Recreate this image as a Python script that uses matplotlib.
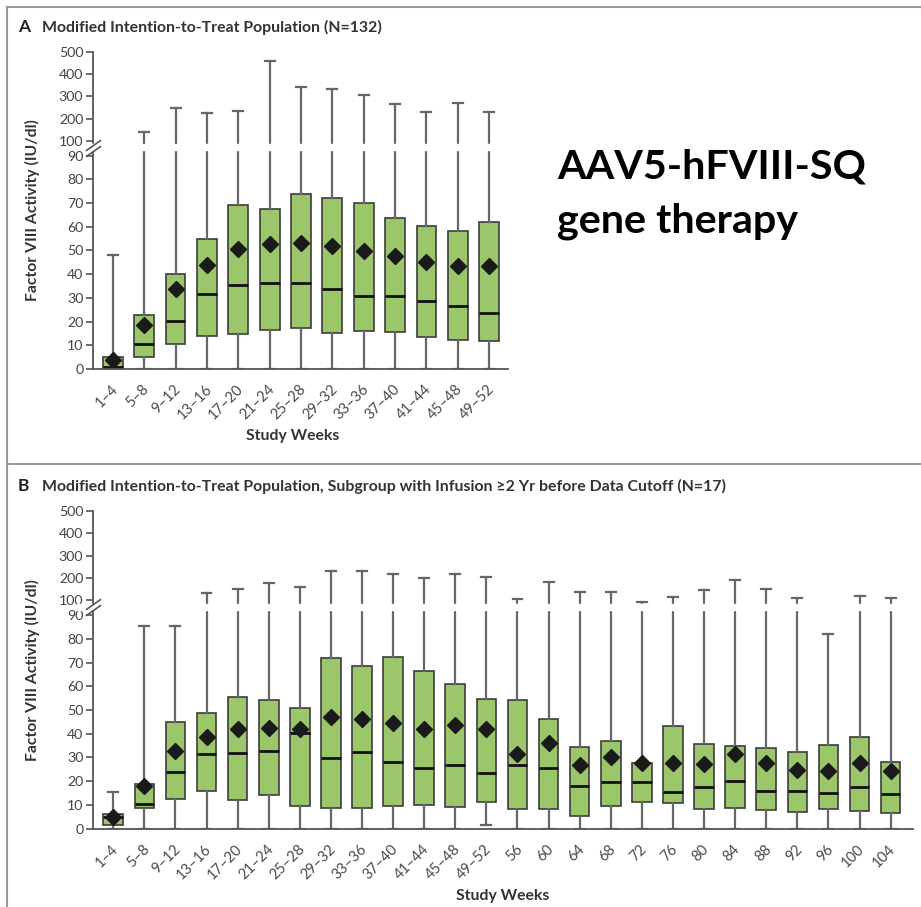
import numpy as np
import matplotlib
matplotlib.use('Agg')
import matplotlib.pyplot as plt
from matplotlib.lines import Line2D
from matplotlib.transforms import ScaledTranslation

plt.rcParams['font.family'] = ['Lato', 'DejaVu Sans']

# panel A data (mITT population, N=132)
labels_a = ['1–4', '5–8', '9–12', '13–16', '17–20', '21–24', '25–28', '29–32',
            '33–36', '37–40', '41–44', '45–48', '49–52']
a_lo = [0, 0, 0, 0, 0, 0, 0, 0, 0, 0, 0, 0, 0]
a_q1 = [0.5, 5.1, 10.4, 14.0, 14.7, 16.6, 17.1, 15.2, 16.2, 15.6, 13.6, 12.2, 11.7]
a_med = [0.8, 10.7, 20.1, 31.6, 35.5, 36.1, 36.2, 33.8, 30.6, 30.9, 28.8, 26.5, 23.6]
a_q3 = [5.1, 22.9, 40.0, 54.9, 69.0, 67.4, 73.6, 72.1, 70.1, 63.8, 60.3, 58.3, 61.8]
a_hi = [48, 139, 249, 225, 236, 460, 343, 331, 304, 266, 231, 272, 230]
a_mean = [3.9, 18.7, 33.6, 43.7, 50.7, 52.7, 53.0, 52.0, 49.6, 47.8, 45.2, 43.3, 43.4]

# panel B data (subgroup infused >=2 yr before cutoff, N=17)
labels_b = labels_a + ['56', '60', '64', '68', '72', '76', '80', '84', '88',
                       '92', '96', '100', '104']
b_lo = [0, 0, 0, 0, 0, 0, 0, 0, 0, 0, 0, 0, 1.5, 0, 0, 0, 0, 0, 0, 0, 0, 0, 0, 0, 0, 0]
b_q1 = [1.7, 8.6, 12.6, 15.9, 12.2, 14.2, 9.6, 8.8, 8.8, 9.6, 10.0, 9.3, 11.2,
        8.1, 8.1, 5.2, 9.4, 11.4, 10.8, 8.1, 8.8, 7.9, 7.2, 8.3, 7.6, 6.5]
b_med = [4.8, 10.4, 24.0, 31.3, 31.7, 32.9, 40.2, 29.9, 32.2, 27.9, 25.6, 26.8, 23.6,
         26.8, 25.7, 18.1, 19.7, 19.8, 15.6, 17.7, 20.2, 16.0, 16.0, 14.9, 17.4, 14.5]
b_q3 = [6.0, 19.0, 45.1, 48.6, 55.6, 54.4, 50.7, 71.8, 68.7, 72.5, 66.6, 60.8, 54.5,
        54.2, 46.2, 34.4, 36.9, 27.7, 43.4, 35.5, 34.8, 34.0, 32.4, 35.3, 38.6, 28.1]
b_hi = [15.3, 85.4, 85.4, 134, 149, 176, 161, 232, 232, 220, 202, 220, 206,
        107, 182, 137, 137, 99, 115, 148, 193, 151, 110, 82, 118, 110]
b_mean = [4.8, 18.1, 32.7, 38.5, 42.1, 42.6, 41.9, 46.9, 46.2, 44.7, 41.9, 43.7, 42.0,
          31.5, 36.2, 26.8, 30.1, 27.7, 27.7, 27.2, 31.5, 27.7, 24.9, 24.3, 27.8, 24.4]

yticks = [0, 10, 20, 30, 40, 50, 60, 70, 80, 90, 100, 200, 300, 400, 500]


# broken y axis: 0-90 linear, short gap, then 100-500 compressed
def fwd(y):
    y = np.asarray(y, dtype=float)
    return np.where(y <= 90, y,
                    np.where(y >= 100, 96.2 + (y - 100) * 0.094, 90 + (y - 90) * 0.62))


def inv(t):
    t = np.asarray(t, dtype=float)
    return np.where(t <= 90, t,
                    np.where(t >= 96.2, 100 + (t - 96.2) / 0.094, 90 + (t - 90) / 0.62))


def draw_panel(ax, labels, lo, q1, med, q3, hi, mean, xlim):
    stats = []
    for i in range(len(labels)):
        stats.append(dict(label=labels[i], whislo=lo[i], q1=q1[i], med=med[i],
                          q3=q3[i], whishi=hi[i], mean=mean[i], fliers=[]))
    pos = np.arange(1, len(labels) + 1)
    ax.set_yscale('function', functions=(fwd, inv))
    ax.bxp(stats, positions=pos, widths=0.63, capwidths=0.32, patch_artist=True,
           showmeans=True, manage_ticks=False,
           boxprops=dict(facecolor='#9cc66a', edgecolor='#3d3d3d', linewidth=1.2),
           whiskerprops=dict(color='#666666', linewidth=1.6),
           capprops=dict(color='#666666', linewidth=1.6),
           medianprops=dict(color='#111111', linewidth=2),
           meanprops=dict(marker='D', markerfacecolor='#1a1a1a',
                          markeredgecolor='#1a1a1a', markersize=8))
    ax.set_ylim(0, 500)
    ax.set_xlim(*xlim)
    ax.set_yticks(yticks)
    ax.set_yticklabels([str(v) for v in yticks])
    ax.set_xticks(pos)
    ax.set_xticklabels(labels, rotation=45, ha='right', va='center',
                       rotation_mode='anchor')
    ax.tick_params(axis='x', length=0, pad=13, labelsize=10.5, labelcolor='#4a4a4a')
    ax.tick_params(axis='y', length=5, width=1.2, color='#555555', labelsize=10.2,
                   labelcolor='#444444', pad=2)
    # nudge the rotated labels a little to the right, like the original
    shift = ScaledTranslation(2 / 72, 0, ax.figure.dpi_scale_trans)
    for lab in ax.get_xticklabels():
        lab.set_transform(lab.get_transform() + shift)
    ax.minorticks_off()
    for s in ['top', 'right']:
        ax.spines[s].set_visible(False)
    for s in ['left', 'bottom']:
        ax.spines[s].set_color('#555555')
        ax.spines[s].set_linewidth(1.3)

    # cut whiskers and spine in the gap, then the break mark
    ax.axhspan(93.6, 97.6, xmin=-0.02, xmax=1, color='white', zorder=2.7, clip_on=False)
    ax.plot([0, 0], [93.4, 97.4], transform=ax.get_yaxis_transform(), ls='none',
            marker=[(-1, -0.7), (1, 0.7)], markersize=11, mec='#555555', mew=1.2,
            clip_on=False, zorder=3)

    ax.set_ylabel('Factor VIII Activity (IU/dl)', fontsize=11.3, fontweight='bold',
                  color='#333333')
    ax.set_xlabel('Study Weeks', fontsize=11.3, fontweight='bold', color='#333333',
                  va='center')


fig = plt.figure(figsize=(9.21, 9.07), dpi=100)

ax1 = fig.add_axes([0.101, 0.5932, 0.4506, 0.3498])
draw_panel(ax1, labels_a, a_lo, a_q1, a_med, a_q3, a_hi, a_mean, (0.37, 13.6))
ax1.yaxis.set_label_coords(-0.128, 0.5)
ax1.xaxis.set_label_coords(0.48, -0.212)

ax2 = fig.add_axes([0.101, 0.0863, 0.890, 0.3503])
draw_panel(ax2, labels_b, b_lo, b_q1, b_med, b_q3, b_hi, b_mean, (0.35, 26.71))
ax2.yaxis.set_label_coords(-0.065, 0.5)
ax2.xaxis.set_label_coords(0.5, -0.211)

# panel titles
fig.text(18 / 921, 1 - 27 / 907, 'A', fontsize=12.5, fontweight='bold', color='#222222', va='center')
fig.text(42 / 921, 1 - 27 / 907, 'Modified Intention-to-Treat Population (N=132)',
         fontsize=11.4, fontweight='bold', color='#333333', va='center')
fig.text(18 / 921, 1 - 486 / 907, 'B', fontsize=12.5, fontweight='bold', color='#222222', va='center')
fig.text(42 / 921, 1 - 486 / 907,
         'Modified Intention-to-Treat Population, Subgroup with Infusion ≥2 Yr before Data Cutoff (N=17)',
         fontsize=11.4, fontweight='bold', color='#333333', va='center')

# annotation
fig.text(557 / 921, 1 - 178 / 907, 'AAV5-hFVIII-SQ', fontsize=29.7, fontweight='bold',
         color='black', va='baseline')
fig.text(557 / 921, 1 - 232 / 907, 'gene therapy', fontsize=29.7, fontweight='bold',
         color='black', va='baseline')

# panel frames
frame = dict(transform=fig.transFigure, color='#999999', lw=1.5)
fig.add_artist(Line2D([7 / 921, 7 / 921], [0, 1 - 7 / 907], **frame))
fig.add_artist(Line2D([7 / 921, 1], [1 - 7 / 907, 1 - 7 / 907], **frame))
fig.add_artist(Line2D([7 / 921, 1], [1 - 464 / 907, 1 - 464 / 907], **frame))

fig.savefig('out.png', dpi=100)
